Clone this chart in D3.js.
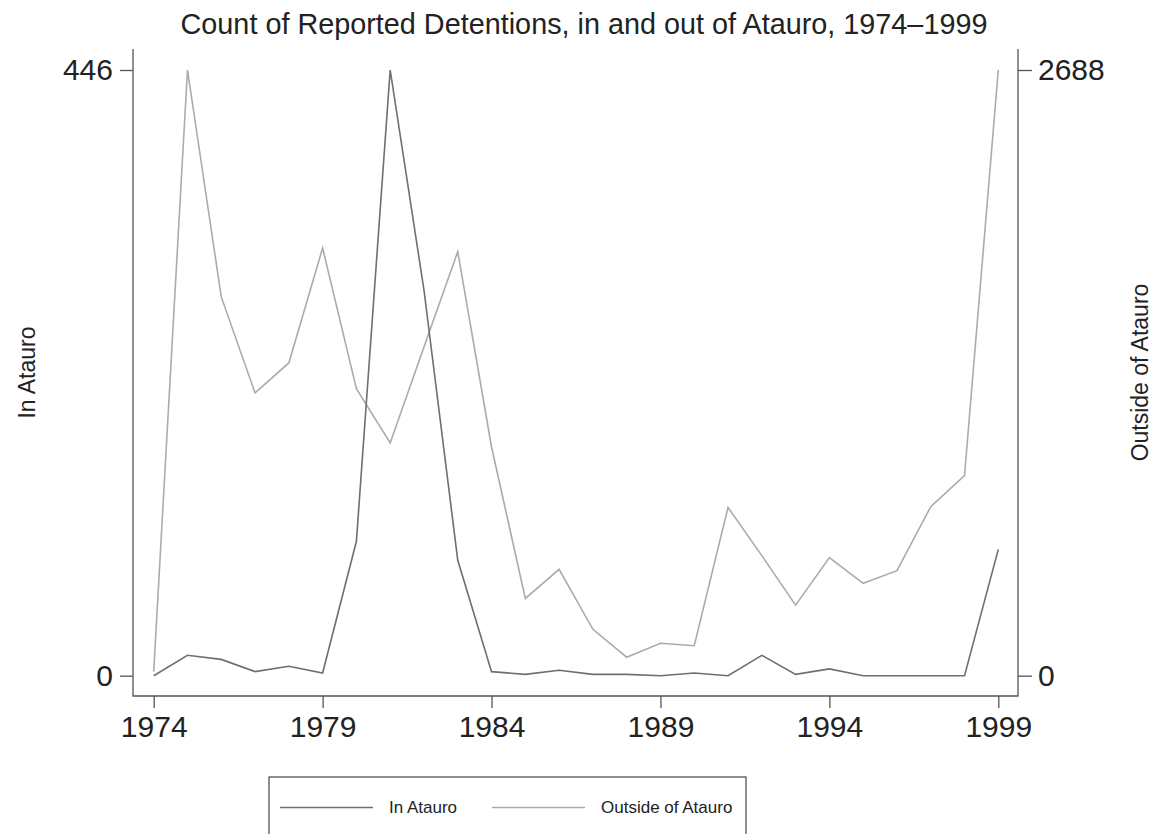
<!DOCTYPE html>
<html>
<head>
<meta charset="utf-8">
<script src="https://cdn.jsdelivr.net/npm/d3@7"></script>
<style>
  body { margin: 0; background: #fff; }
  text { font-family: "Liberation Sans", Arial, Helvetica, sans-serif; fill: #222; }
  .axis path, .axis line { stroke: #555; stroke-width: 1.3; }
</style>
</head>
<body>
<div id="chart"></div>
<script>
// detentions data
var years = d3.range(1974, 2000);
var inAtauro = [0, 15, 12, 3, 7, 2, 99, 446, 284, 85, 3, 1, 4, 1, 1, 0, 2, 0, 15, 1, 5, 0, 0, 0, 0, 93];
var outsideAtauro = [18, 2688, 1681, 1255, 1388, 1898, 1274, 1033, 1459, 1882, 1015, 343, 472, 206, 82, 144, 133, 747, 533, 313, 524, 410, 466, 750, 888, 2688];
var xTicks = [1974, 1979, 1984, 1989, 1994, 1999];
var leftTicks = [0, 446];
var rightTicks = [0, 2688];
var seriesNames = ["In Atauro", "Outside of Atauro"];

var svgWidth = 1165, svgHeight = 834;
var plot = {left: 133, right: 1018, top: 49, bottom: 696};

var svg = d3.select("#chart").append("svg")
    .attr("width", svgWidth)
    .attr("height", svgHeight);

var x = d3.scaleLinear().domain([1974, 1999]).range([153.7, 998.3]);
var yIn = d3.scaleLinear().domain([0, 446]).range([675.7, 70]);
var yOut = d3.scaleLinear().domain([0, 2688]).range([675.7, 70]);

var colIn = "#6f6f6f", colOut = "#ababab";

// title
svg.append("text")
    .attr("x", 584).attr("y", 34)
    .attr("text-anchor", "middle")
    .style("font-size", "28.8px")
    .text("Count of Reported Detentions, in and out of Atauro, 1974\u20131999");

// axes
var axL = svg.append("g").attr("class", "axis")
    .attr("transform", "translate(" + plot.left + ",0)")
    .call(d3.axisLeft(yIn).tickValues(leftTicks).tickSize(13).tickPadding(7).tickSizeOuter(0));
var axR = svg.append("g").attr("class", "axis")
    .attr("transform", "translate(" + plot.right + ",0)")
    .call(d3.axisRight(yOut).tickValues(rightTicks).tickFormat(d3.format("d")).tickSize(14).tickPadding(6).tickSizeOuter(0));
var axB = svg.append("g").attr("class", "axis")
    .attr("transform", "translate(0," + plot.bottom + ")")
    .call(d3.axisBottom(x).tickValues(xTicks).tickFormat(d3.format("d")).tickSize(12).tickPadding(7).tickSizeOuter(0));

[axL, axR, axB].forEach(function(a) {
  a.select(".domain").remove();
  a.selectAll("text").style("font-size", "30px").attr("fill", "#222");
});
axB.selectAll("text").attr("dy", "0.72em");

// axis lines span the whole plot region
svg.append("path").attr("fill", "none").attr("stroke", "#555").attr("stroke-width", 1.3)
    .attr("d", "M" + plot.left + "," + plot.top + "V" + plot.bottom + "H" + plot.right + "V" + plot.top);

// axis titles
svg.append("text")
    .attr("transform", "translate(35," + ((plot.top + plot.bottom) / 2) + ") rotate(-90)")
    .attr("text-anchor", "middle")
    .style("font-size", "23px")
    .text("In Atauro");
svg.append("text")
    .attr("transform", "translate(1148," + ((plot.top + plot.bottom) / 2) + ") rotate(-90)")
    .attr("text-anchor", "middle")
    .style("font-size", "23px")
    .text("Outside of Atauro");

// lines
var lineIn = d3.line().x(function(d, i) { return x(years[i]); }).y(function(d) { return yIn(d); });
var lineOut = d3.line().x(function(d, i) { return x(years[i]); }).y(function(d) { return yOut(d); });

svg.append("path").datum(outsideAtauro)
    .attr("fill", "none").attr("stroke", colOut).attr("stroke-width", 1.6)
    .attr("d", lineOut);
svg.append("path").datum(inAtauro)
    .attr("fill", "none").attr("stroke", colIn).attr("stroke-width", 1.6)
    .attr("d", lineIn);

// legend
var leg = svg.append("g");
leg.append("rect")
    .attr("x", 269).attr("y", 777).attr("width", 477).attr("height", 70)
    .attr("fill", "#fff").attr("stroke", "#555").attr("stroke-width", 1.3);
var legX = [280, 492];
var legCols = [colIn, colOut];
seriesNames.forEach(function(name, i) {
  leg.append("line")
      .attr("x1", legX[i]).attr("x2", legX[i] + 93)
      .attr("y1", 807.5).attr("y2", 807.5)
      .attr("stroke", legCols[i]).attr("stroke-width", 1.6);
  leg.append("text")
      .attr("x", legX[i] + 109).attr("y", 807.5)
      .attr("dy", "0.35em")
      .style("font-size", "17px")
      .text(name);
});
</script>
</body>
</html>
